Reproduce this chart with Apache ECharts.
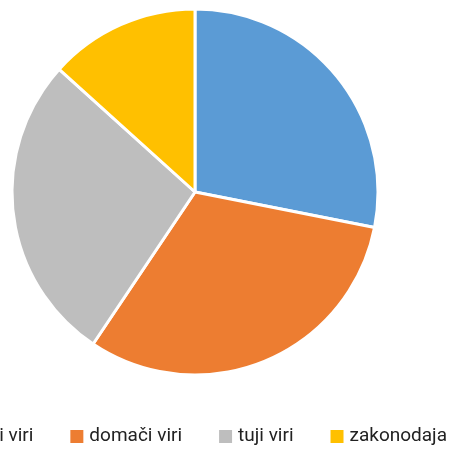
<!DOCTYPE html>
<html>
<head>
<meta charset="utf-8">
<script src="https://cdn.jsdelivr.net/npm/echarts@6/dist/echarts.min.js"></script>
<style>
  html, body { margin: 0; padding: 0; background: #fff; }
  #chart { width: 450px; height: 449px; }
</style>
</head>
<body>
<div id="chart"></div>
<script>
// slice names and shares, clockwise from 12 o'clock
const categories = ['evropski viri', 'domači viri', 'tuji viri', 'zakonodaja']
const values = [28.1, 31.3, 27.3, 13.3]
const colors = ['#5B9BD5', '#ED7D31', '#BEBEBE', '#FFC000']

const chart = echarts.init(document.getElementById('chart'))

chart.setOption({
  animation: false,
  color: colors,
  legend: {
    data: categories,
    orient: 'horizontal',
    right: 3,
    top: 427,
    width: 1000, // keep on one line, it runs off the left edge like the original
    padding: 0,
    icon: 'rect',
    itemWidth: 15,
    itemHeight: 15,
    itemGap: 35,
    textStyle: {
      fontFamily: 'Roboto',
      fontSize: 19,
      color: '#222'
    }
  },
  series: [{
    type: 'pie',
    center: [195, 192],
    radius: 183,
    startAngle: 90,
    clockwise: true,
    label: { show: false },
    labelLine: { show: false },
    itemStyle: {
      borderColor: '#fff',
      borderWidth: 3
    },
    emphasis: { disabled: true },
    data: categories.map((name, i) => ({ name, value: values[i] }))
  }]
})
</script>
</body>
</html>
